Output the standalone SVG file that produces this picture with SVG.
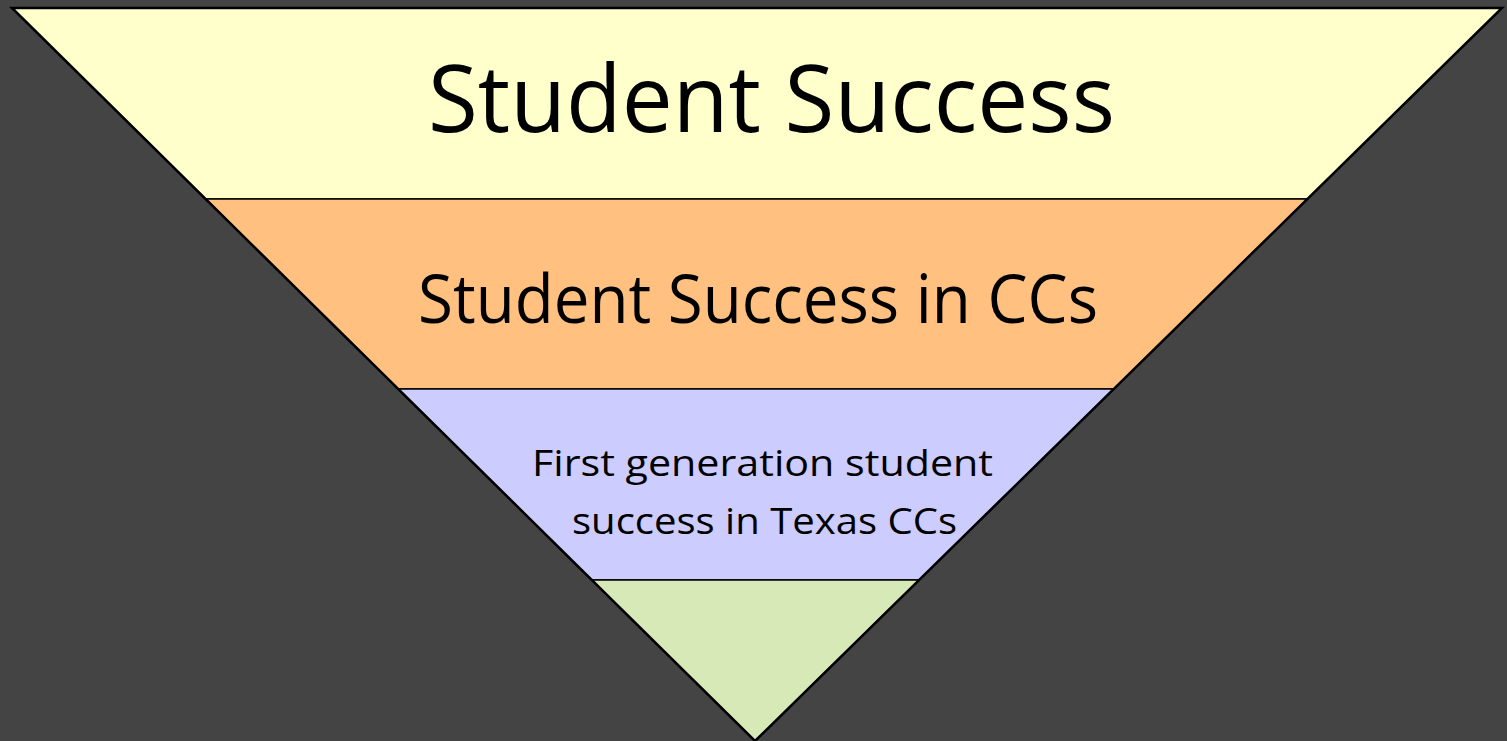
<svg xmlns="http://www.w3.org/2000/svg" width="1507" height="741" viewBox="0 0 1507 741">
  <style>
    .band { stroke: #000; stroke-width: 1.5; stroke-linejoin: miter; }
    .label { font-family: "Open Sans", "Noto Sans", "Liberation Sans", sans-serif; fill: #000; text-anchor: middle; }
  </style>
  <rect x="0" y="0" width="1507" height="741" fill="#444444"/>

  <!-- Inverted funnel, split into four horizontal bands -->
  <g id="band-student-success">
    <polygon class="band" fill="#FFFFCC" points="12,8 1502,8 1307.4,199 205.6,199"/>
    <text class="label" x="771.5" y="132" font-size="93" textLength="687" lengthAdjust="spacingAndGlyphs">Student Success</text>
  </g>
  <g id="band-cc-success">
    <polygon class="band" fill="#FFC080" points="205.6,199 1307.4,199 1113.7,389 398.2,389"/>
    <text class="label" x="758" y="323" font-size="67" textLength="680" lengthAdjust="spacingAndGlyphs">Student Success in CCs</text>
  </g>
  <g id="band-first-gen">
    <polygon class="band" fill="#CCCCFF" points="398.2,389 1113.7,389 919.1,580 591.8,580"/>
    <text class="label" x="762.5" y="476" font-size="37" textLength="461" lengthAdjust="spacingAndGlyphs">First generation student</text>
    <text class="label" x="764.5" y="534" font-size="37" textLength="385" lengthAdjust="spacingAndGlyphs">success in Texas CCs</text>
  </g>
  <g id="band-apex">
    <polygon class="band" fill="#D8E9B8" points="591.8,580 919.1,580 755,741"/>
  </g>

  <!-- Outer outline of the funnel -->
  <g id="outline">
    <polygon points="12,8 1502,8 755,741" fill="none" stroke="#000" stroke-width="2.5" stroke-linejoin="miter"/>
  </g>
</svg>
